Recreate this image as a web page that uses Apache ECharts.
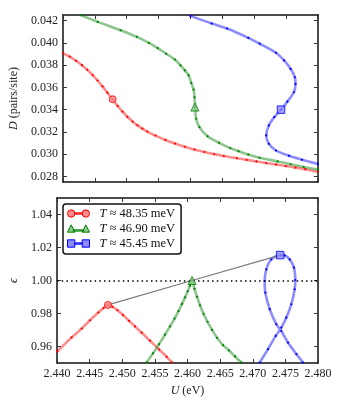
<!DOCTYPE html>
<html>
<head>
<meta charset="utf-8">
<script src="https://cdn.jsdelivr.net/npm/echarts@6/dist/echarts.min.js"></script>
<style>
html,body{margin:0;padding:0;background:#fff;}
#chart{width:338px;height:400px;}
</style>
</head>
<body>
<div id="chart"></div>
<script>
// ---- tick values ----
const uTicks = [2.440, 2.445, 2.450, 2.455, 2.460, 2.465, 2.470, 2.475, 2.480];
const dTicks = [0.028, 0.030, 0.032, 0.034, 0.036, 0.038, 0.040, 0.042];
const epsTicks = [0.96, 0.98, 1.00, 1.02, 1.04];

// ---- legend labels ----
const seriesNames = ['T ≈ 48.35 meV', 'T ≈ 46.90 meV', 'T ≈ 45.45 meV'];

// ---- top panel: D (pairs/site) vs U (eV) ----
const redD = [[2.44000,0.039083],[2.44107,0.038757],[2.44207,0.038387],[2.44299,0.037990],[2.44383,0.037574],[2.44467,0.037104],[2.44544,0.036617],[2.44621,0.036084],[2.44697,0.035524],[2.44777,0.034928],[2.44858,0.034331],[2.44935,0.033817],[2.45011,0.033356],[2.45093,0.032931],[2.45169,0.032588],[2.45246,0.032290],[2.45323,0.032028],[2.45451,0.031667],[2.45605,0.031278],[2.45758,0.030953],[2.45911,0.030664],[2.46064,0.030411],[2.46218,0.030194],[2.46371,0.030005],[2.46524,0.029833],[2.46728,0.029634],[2.46881,0.029490],[2.47035,0.029345],[2.47188,0.029201],[2.47341,0.029065],[2.47494,0.028930],[2.47648,0.028794],[2.47801,0.028650],[2.48000,0.028424]];
const greenD = [[2.44276,0.04249],[2.44547,0.04188],[2.44904,0.04113],[2.45160,0.04053],[2.45349,0.03999],[2.45487,0.03953],[2.45620,0.03902],[2.45755,0.03850],[2.45844,0.03797],[2.45911,0.03752],[2.45972,0.03707],[2.46012,0.03640],[2.46049,0.03580],[2.46064,0.03511],[2.46074,0.03423],[2.46089,0.03318],[2.46141,0.03243],[2.46268,0.03161],[2.46448,0.03102],[2.46625,0.030547],[2.46754,0.030267],[2.46907,0.029960],[2.47085,0.029670],[2.47367,0.029346],[2.47571,0.029093],[2.47775,0.028849],[2.48000,0.028623]];
const blueD = [[2.45997,0.04242],[2.46334,0.04173],[2.46575,0.04128],[2.46907,0.04044],[2.47085,0.03992],[2.47341,0.03911],[2.47468,0.03842],[2.47571,0.03766],[2.47637,0.03691],[2.47647,0.03631],[2.47622,0.03556],[2.47520,0.03472],[2.47422,0.03400],[2.47315,0.03333],[2.47229,0.03258],[2.47188,0.03168],[2.47229,0.03093],[2.47341,0.03033],[2.47545,0.02985],[2.47750,0.02950],[2.48000,0.02912]];

// ---- bottom panel: epsilon vs U (eV) ----
const redEps = [[2.44005,0.9570],[2.44225,0.9655],[2.44379,0.9709],[2.44506,0.9759],[2.44633,0.9806],[2.44713,0.98329],[2.44782,0.9852],[2.44851,0.98407],[2.44927,0.98196],[2.45012,0.97906],[2.45103,0.97561],[2.45195,0.97217],[2.45298,0.96836],[2.45425,0.96352],[2.45568,0.95808],[2.45681,0.95373],[2.45762,0.95034]];
const greenEps = [[2.45375,0.95034],[2.45471,0.95584],[2.45563,0.96140],[2.45655,0.96715],[2.45732,0.97216],[2.45801,0.97694],[2.45862,0.98147],[2.45916,0.98583],[2.45962,0.98976],[2.46003,0.99345],[2.46038,0.99689],[2.46069,1.00010],[2.46107,0.99496],[2.46146,0.99012],[2.46192,0.98498],[2.46245,0.97984],[2.46307,0.97501],[2.46376,0.97005],[2.46452,0.96527],[2.46544,0.96080],[2.46636,0.95759],[2.46728,0.95397],[2.46825,0.95034]];
const blueEps = [[2.47107,0.9503],[2.47234,0.9584],[2.47352,0.9664],[2.47438,0.9715],[2.47514,0.9775],[2.47591,0.9856],[2.47643,0.9947],[2.47652,1.0003],[2.47632,1.0078],[2.47566,1.0128],[2.47490,1.0152],[2.47428,1.0154],[2.47284,1.0128],[2.47208,1.0067],[2.47183,0.9997],[2.47192,0.9927],[2.47260,0.9826],[2.47361,0.9735],[2.47438,0.9694],[2.47540,0.9624],[2.47668,0.9554],[2.47770,0.9503]];

// ---- critical (marked) points ----
const critU = [2.4478, 2.4607, 2.4742];
const critD = [0.03493, 0.03423, 0.03400];
const critEps = [0.9852, 1.0000, 1.0154];
const refEps = 1.0;

const SERIF = 'Liberation Serif';
const lineCols = ['rgba(255,0,0,0.45)', 'rgba(0,128,0,0.45)', 'rgba(0,0,255,0.45)'];
const dotCols = ['#ff0000', '#008000', '#0000ff'];
const fillCols = ['#ff8c8c', '#8cc88c', '#8c8cff'];
const markSyms = ['circle', 'triangle', 'rect'];
const markSizes = [7, 8, 7.5];
const legendIcons = [
  'path://M0.5,4a3.5,3.5 0 1,0 7,0a3.5,3.5 0 1,0 -7,0Z M7.5,3.4L14.5,3.4L14.5,4.6L7.5,4.6Z M14.5,4a3.5,3.5 0 1,0 7,0a3.5,3.5 0 1,0 -7,0Z',
  'path://M0.5,7.5L4,0.5L7.5,7.5Z M6,5.3L16,5.3L16,6.5L6,6.5Z M14.5,7.5L18,0.5L21.5,7.5Z',
  'path://M0.5,0.5L7.5,0.5L7.5,7.5L0.5,7.5Z M7.5,3.4L14.5,3.4L14.5,4.6L7.5,4.6Z M14.5,0.5L21.5,0.5L21.5,7.5L14.5,7.5Z'
];

const chart = echarts.init(document.getElementById('chart'), null, {renderer: 'canvas'});

function xAx(grid, pos, labels, name) {
  return {
    type: 'value', gridIndex: grid, position: pos, min: 2.44, max: 2.48,
    axisLine: {show: true, onZero: false, lineStyle: {color: '#111', width: 1.5}},
    axisTick: {show: true, inside: true, length: 4, customValues: uTicks, lineStyle: {color: '#333', width: 1}},
    axisLabel: {show: labels, customValues: uTicks, formatter: v => v.toFixed(3), margin: 5,
      fontFamily: SERIF, fontSize: 12, color: '#222'},
    splitLine: {show: false},
    name: name || '', nameLocation: 'middle', nameGap: 22,
    nameTextStyle: {fontFamily: SERIF, fontSize: 12, color: '#222',
      rich: {i: {fontStyle: 'italic', fontFamily: SERIF, fontSize: 12, color: '#222'}}}
  };
}
function yAx(grid, pos, labels, min, max, ticks, dec, name, gap) {
  return {
    type: 'value', gridIndex: grid, position: pos, min: min, max: max,
    axisLine: {show: true, onZero: false, lineStyle: {color: '#111', width: 1.5}},
    axisTick: {show: true, inside: true, length: 4, customValues: ticks, lineStyle: {color: '#333', width: 1}},
    axisLabel: {show: labels, customValues: ticks, formatter: v => v.toFixed(dec), margin: 5,
      fontFamily: SERIF, fontSize: 12, color: '#222'},
    splitLine: {show: false},
    name: name || '', nameLocation: 'middle', nameGap: gap || 40, nameRotate: 90,
    nameTextStyle: {fontFamily: SERIF, fontSize: 12, color: '#222',
      rich: {i: {fontStyle: 'italic', fontFamily: SERIF, fontSize: 12, color: '#222'}}}
  };
}

const topData = [redD, greenD, blueD];
const botData = [redEps, greenEps, blueEps];
const series = [];
for (let k = 0; k < 3; k++) {
  series.push({
    name: seriesNames[k], type: 'line', xAxisIndex: 0, yAxisIndex: 0,
    data: topData[k], smooth: 0.3, symbol: 'circle', symbolSize: 2.2, showSymbol: true, showAllSymbol: true,
    lineStyle: {color: lineCols[k], width: 2.6}, itemStyle: {color: dotCols[k]}, z: 2, emphasis: {disabled: true}
  });
}
for (let k = 0; k < 3; k++) {
  series.push({
    name: seriesNames[k], type: 'line', xAxisIndex: 2, yAxisIndex: 2,
    data: botData[k], smooth: 0.3, symbol: 'circle', symbolSize: 2.2, showSymbol: true, showAllSymbol: true,
    lineStyle: {color: lineCols[k], width: 2.6}, itemStyle: {color: dotCols[k]}, z: 2, emphasis: {disabled: true}
  });
}
// gray line joining marked points + dotted reference line at eps = 1
series.push({
  name: 'crit', type: 'line', xAxisIndex: 2, yAxisIndex: 2,
  data: critU.map((u, i) => [u, critEps[i]]), symbol: 'none',
  lineStyle: {color: '#7a7a7a', width: 1.2}, z: 3, emphasis: {disabled: true},
  markLine: {silent: true, symbol: ['none', 'none'], label: {show: false},
    lineStyle: {color: '#000', width: 1.5, type: [1.5, 3.2]},
    data: [{yAxis: refEps}]}
});
for (let k = 0; k < 3; k++) {
  const st = {color: fillCols[k], borderColor: dotCols[k], borderWidth: 1};
  series.push({type: 'scatter', xAxisIndex: 0, yAxisIndex: 0, data: [[critU[k], critD[k]]],
    symbol: markSyms[k], symbolSize: markSizes[k], itemStyle: st, z: 5, emphasis: {disabled: true}});
  series.push({type: 'scatter', xAxisIndex: 2, yAxisIndex: 2, data: [[critU[k], critEps[k]]],
    symbol: markSyms[k], symbolSize: markSizes[k], itemStyle: st, z: 5, emphasis: {disabled: true}});
}

chart.setOption({
  animation: false,
  backgroundColor: '#fff',
  grid: [
    {left: 57, top: 15, width: 261, height: 167, containLabel: false},
    {left: 57, top: 198, width: 261, height: 165, containLabel: false}
  ],
  xAxis: [
    xAx(0, 'bottom', false), xAx(0, 'top', false),
    xAx(1, 'bottom', true, '{i|U} (eV)'), xAx(1, 'top', false)
  ],
  yAxis: [
    yAx(0, 'left', true, 0.0275, 0.0425, dTicks, 3, '{i|D} (pairs/site)', 40),
    yAx(0, 'right', false, 0.0275, 0.0425, dTicks, 3),
    yAx(1, 'left', true, 0.95, 1.05, epsTicks, 2, '{i|ϵ}', 25),
    yAx(1, 'right', false, 0.95, 1.05, epsTicks, 2)
  ],
  legend: {
    data: seriesNames.map((n, k) => ({name: n, icon: legendIcons[k],
      itemStyle: {color: fillCols[k], borderColor: dotCols[k], borderWidth: 1}})),
    orient: 'vertical', left: 63, top: 204, padding: [3, 6, 4, 4], itemGap: 2,
    itemWidth: 22, itemHeight: 8, selectedMode: false,
    backgroundColor: '#fff', borderColor: '#111', borderWidth: 1.5, borderRadius: 3,
    textStyle: {fontFamily: SERIF, fontSize: 12.5, color: '#111',
      rich: {i: {fontStyle: 'italic', fontFamily: SERIF, fontSize: 12.5, color: '#111', padding: [0, 0, 0, 5]}}},
    formatter: n => '{i|T}' + n.slice(1)
  },
  series: series
});
</script>
</body>
</html>
